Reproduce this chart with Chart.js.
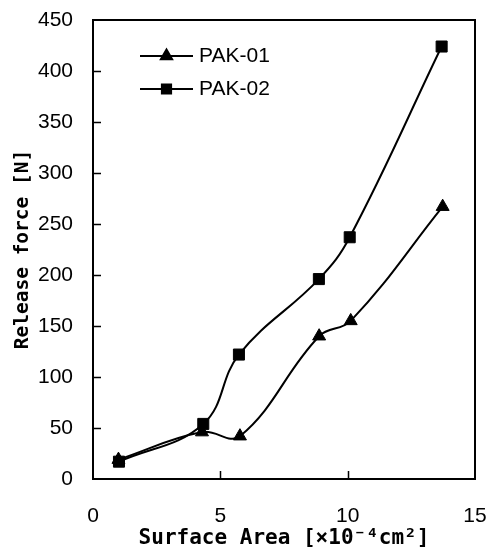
<!DOCTYPE html>
<html>
<head>
<meta charset="utf-8">
<script src="https://cdn.jsdelivr.net/npm/chart.js@4.4.1/dist/chart.umd.min.js"></script>
<style>
  html, body { margin: 0; padding: 0; background: #fff; }
  #wrap { width: 489px; height: 548px; }
</style>
</head>
<body>
<div id="wrap"><canvas id="chart" width="489" height="548"></canvas></div>
<script>
/* DATA */
const seriesNames = ["PAK-01", "PAK-02"];
const areaPak01 = [1.0, 4.28, 5.77, 8.88, 10.12, 13.73];
const forcePak01 = [19, 46, 42, 140, 155, 267];
const areaPak02 = [1.02, 4.33, 5.73, 8.87, 10.08, 13.69];
const forcePak02 = [17, 54, 122, 196, 237, 424];
const xTicks = [0, 5, 10, 15];
const yTicks = [0, 50, 100, 150, 200, 250, 300, 350, 400, 450];

const toPoints = (xs, ys) => xs.map((x, i) => ({ x: x, y: ys[i] }));

const LABEL_FONT = "'Liberation Sans', Arial, sans-serif";
const TITLE_FONT = "'DejaVu Sans Mono', monospace";

/* FRAME + INNER TICKS + LEGEND */
const framePlugin = {
  id: "frame",
  afterDraw(chart) {
    const { ctx, chartArea: a, scales } = chart;
    ctx.save();
    ctx.strokeStyle = "#000";
    ctx.lineWidth = 2;
    ctx.strokeRect(a.left, a.top, a.right - a.left, a.bottom - a.top);

    ctx.lineWidth = 1.5;
    ctx.beginPath();
    yTicks.slice(1, -1).forEach((v) => {
      const y = Math.round(scales.y.getPixelForValue(v)) + 0.5;
      ctx.moveTo(a.left, y);
      ctx.lineTo(a.left + 8, y);
    });
    xTicks.slice(1, -1).forEach((v) => {
      const x = Math.round(scales.x.getPixelForValue(v)) + 0.5;
      ctx.moveTo(x, a.bottom);
      ctx.lineTo(x, a.bottom - 8);
    });
    ctx.stroke();

    // legend inside plot
    const rows = [56, 89];
    chart.data.datasets.forEach((ds, i) => {
      const y = rows[i];
      ctx.strokeStyle = "#000";
      ctx.lineWidth = 2;
      ctx.beginPath();
      ctx.moveTo(140, y);
      ctx.lineTo(193, y);
      ctx.stroke();
      ctx.fillStyle = "#000";
      Chart.helpers.drawPoint(ctx, {
        pointStyle: ds.pointStyle,
        radius: 6.5,
        borderWidth: 1,
      }, 166.5, y);
      ctx.fill();
      ctx.font = "21px " + LABEL_FONT;
      ctx.textAlign = "left";
      ctx.textBaseline = "middle";
      ctx.fillText(ds.label, 199, y);
    });
    ctx.restore();
  },
};

new Chart(document.getElementById("chart"), {
  type: "line",
  data: {
    datasets: [
      {
        label: seriesNames[0],
        data: toPoints(areaPak01, forcePak01),
        pointStyle: "triangle",
        pointRadius: 7.5,
      },
      {
        label: seriesNames[1],
        data: toPoints(areaPak02, forcePak02),
        pointStyle: "rect",
        pointRadius: 7.8,
      },
    ],
  },
  options: {
    responsive: false,
    animation: false,
    layout: { padding: { top: 20, right: 14, left: 0, bottom: 0 } },
    elements: {
      line: { borderColor: "#000", borderWidth: 2, tension: 0.4, fill: false },
      point: { backgroundColor: "#000", borderColor: "#000", borderWidth: 1 },
    },
    plugins: {
      legend: { display: false },
      tooltip: { enabled: false },
    },
    scales: {
      x: {
        type: "linear",
        min: 0,
        max: 15,
        afterBuildTicks: (s) => { s.ticks = xTicks.map((v) => ({ value: v })); },
        afterFit: (s) => {
          s.height = 69;
          s.paddingLeft = 0;
          s.paddingRight = 0;
        },
        grid: { display: false, drawTicks: false },
        border: { display: false },
        ticks: {
          color: "#000",
          padding: 25,
          maxRotation: 0,
          font: { family: LABEL_FONT, size: 21 },
        },
        title: {
          display: true,
          text: "Surface Area [×10⁻⁴cm²]",
          color: "#000",
          padding: { top: 0, bottom: 0 },
          font: { family: TITLE_FONT, size: 21, weight: "bold", lineHeight: 0.9 },
        },
      },
      y: {
        min: 0,
        max: 450,
        afterBuildTicks: (s) => { s.ticks = yTicks.map((v) => ({ value: v })); },
        afterFit: (s) => {
          s.width = 93;
          s.paddingTop = 0;
          s.paddingBottom = 0;
        },
        grid: { display: false, drawTicks: false },
        border: { display: false },
        ticks: {
          color: "#000",
          padding: 20,
          font: { family: LABEL_FONT, size: 21 },
        },
        title: {
          display: true,
          text: "Release force [N]",
          color: "#000",
          padding: { top: 11.5, bottom: 0 },
          font: { family: TITLE_FONT, size: 19.5, weight: "bold", lineHeight: 1.2 },
        },
      },
    },
  },
  plugins: [framePlugin],
});
</script>
</body>
</html>
